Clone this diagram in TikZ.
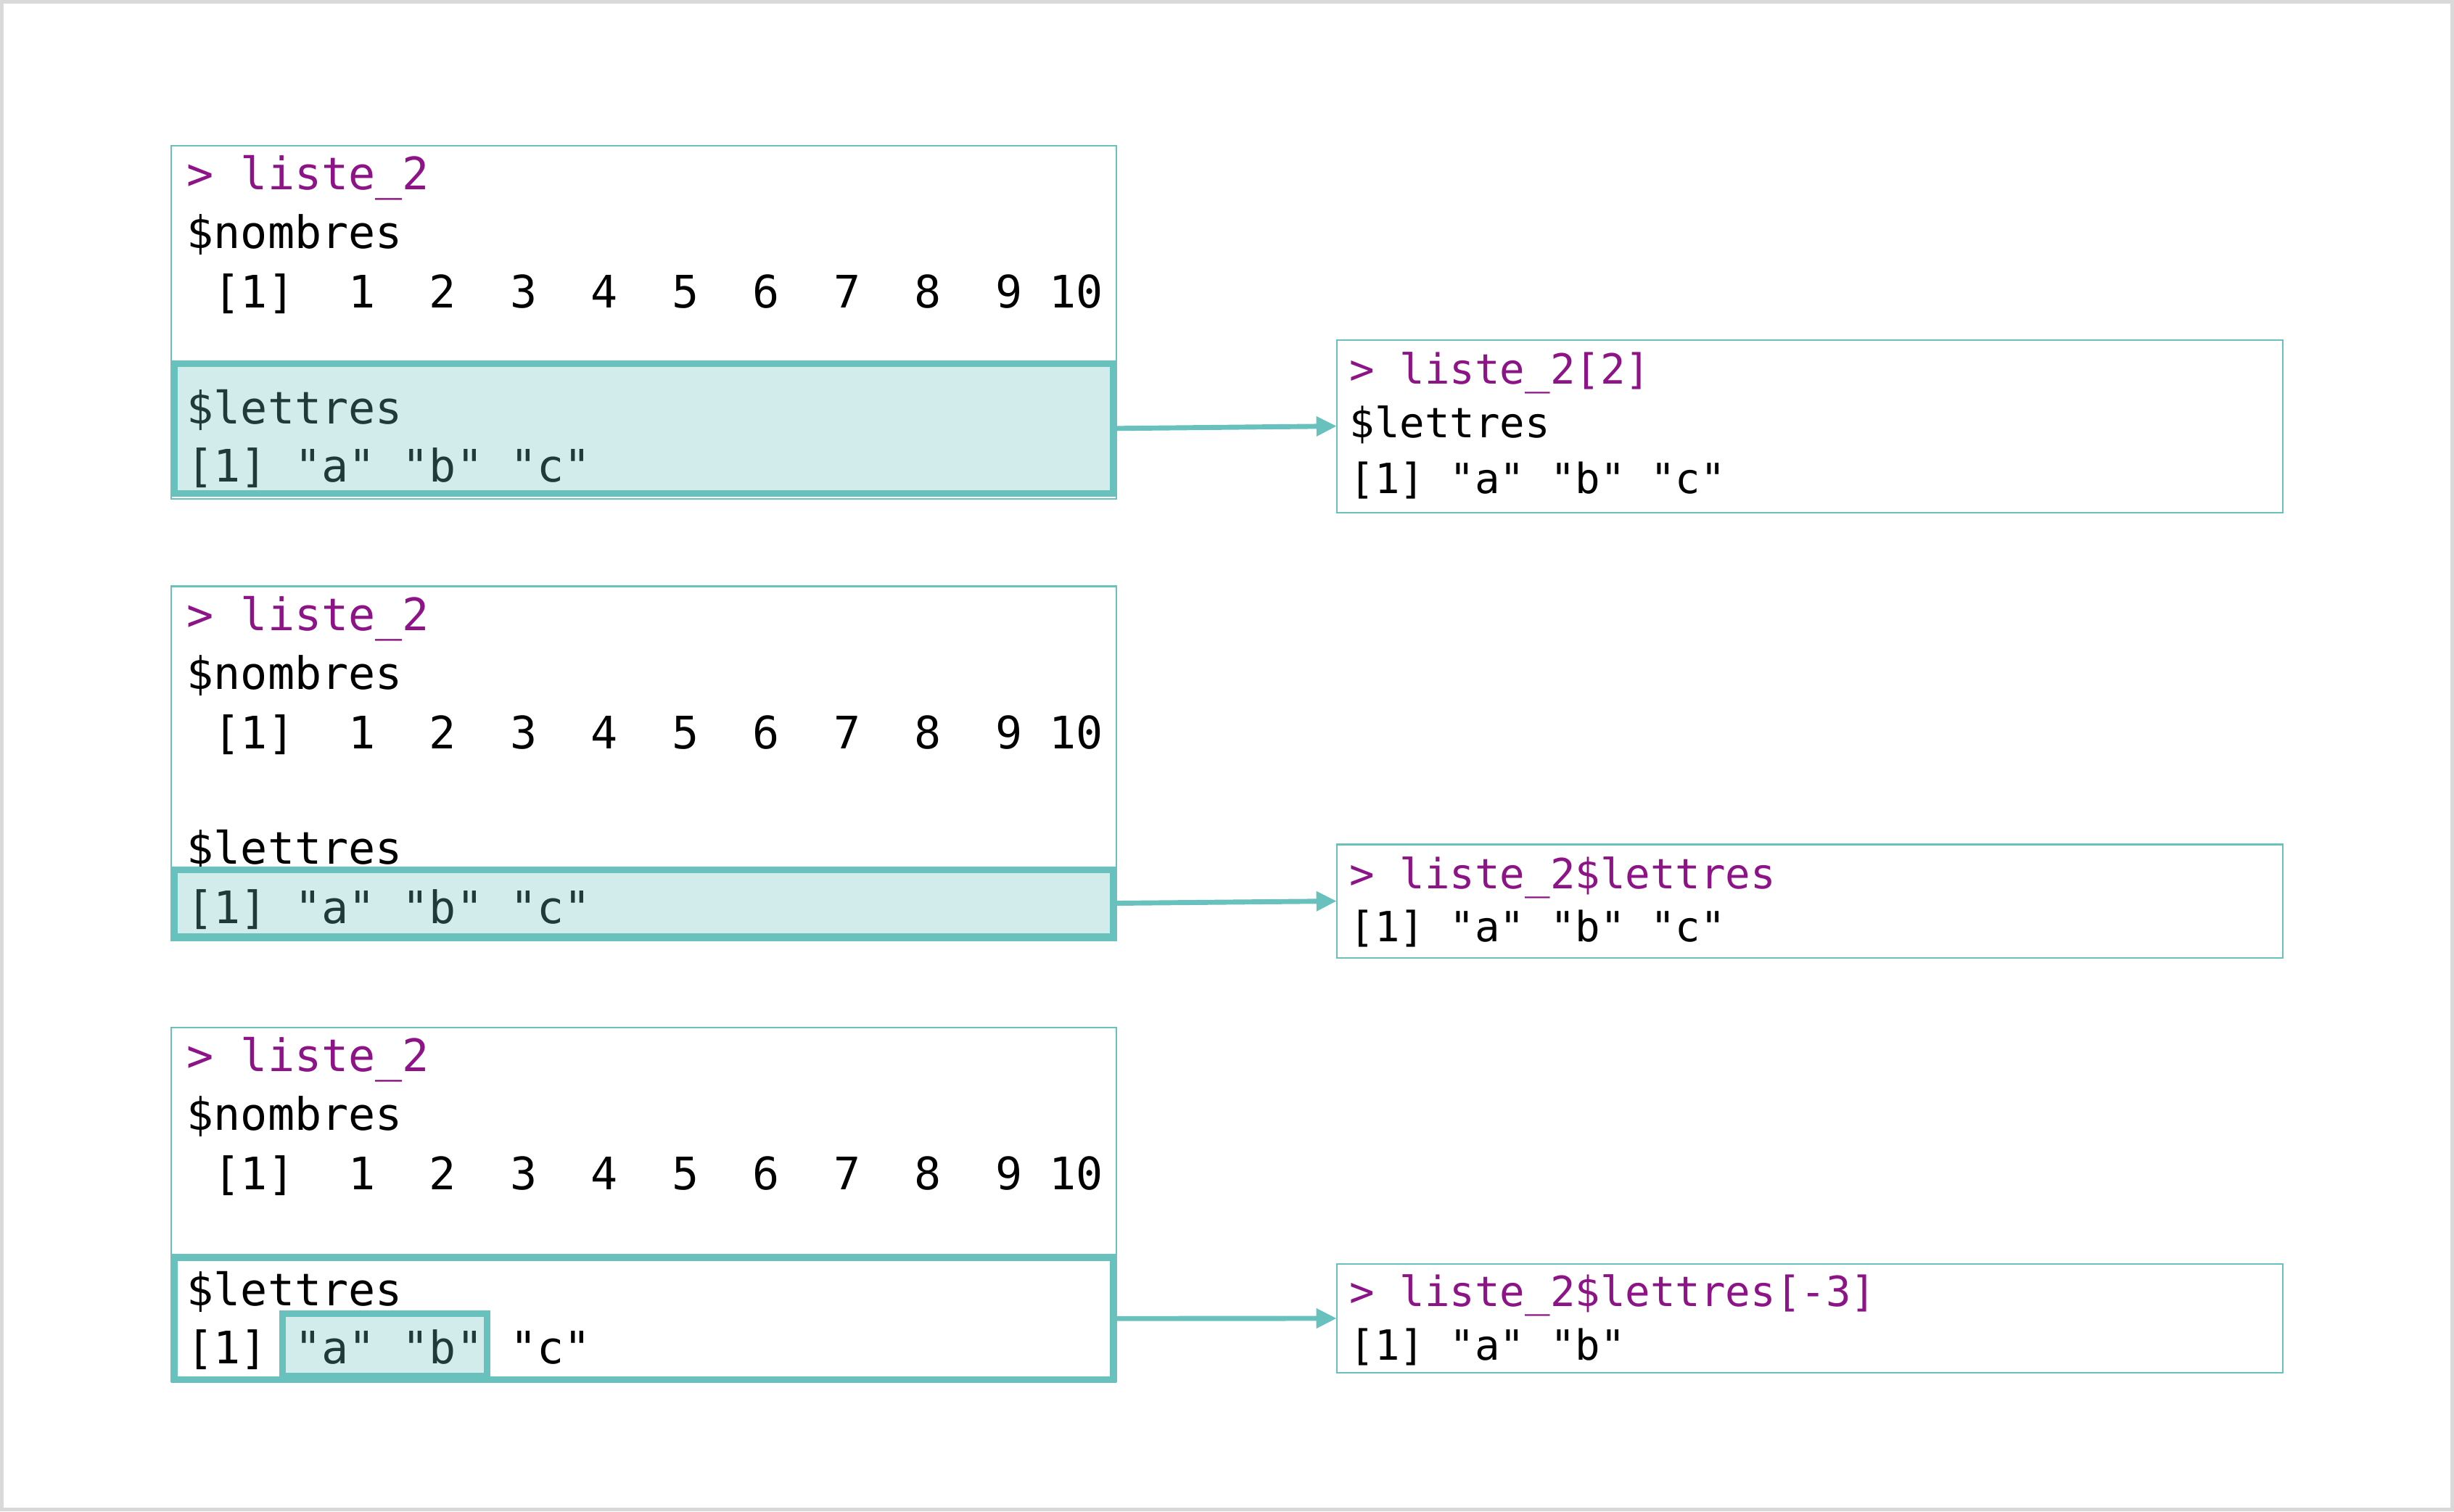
\documentclass[tikz,border=0pt]{standalone}
\usepackage{fontspec}
\usepackage{xcolor}
\usepackage{tikz}
\usetikzlibrary{arrows.meta,fit}
\newfontfamily\codefont{DejaVu Sans Mono}
\definecolor{tealline}{RGB}{104,193,189}
\definecolor{promptpurple}{RGB}{140,20,135}
\definecolor{framegray}{RGB}{217,217,217}
\frenchspacing

\begin{document}
\begin{tikzpicture}
      [ x=0.5pt, y=-0.5pt,
        code/.style={anchor=base west, inner sep=0pt,
                     font=\codefont\fontsize{14.3pt}{17pt}\selectfont},
        prompt/.style={code, text=promptpurple},
        result/.style={code, font=\codefont\fontsize{13.3pt}{16pt}\selectfont},
        resprompt/.style={result, text=promptpurple},
        console/.style={draw=tealline, line width=0.5pt, inner sep=0pt, outer sep=0pt},
        pick/.style={draw=tealline, line width=2.15pt, inner sep=0pt, outer sep=0pt},
        picked/.style={pick, fill=tealline, fill opacity=0.3},
        link/.style={-{Triangle[length=6.5pt,width=6pt]}, draw=tealline, line width=1.6pt}
      ]
      \useasboundingbox (0,0) rectangle (1568,966);
      \draw[framegray, line width=1.15pt, fill=white] (1.15,1.15) rectangle (1566.85,964.85);

      % liste_2[2]
      \node[console, fit={(109.2,93) (713.4,318.9)}]       (liste1) {};
      \node[prompt] (p1) at (119,121.3) {>~liste\_2};
      \node[code]   (n1) at (119,158.8) {\$nombres};
      \node[code]   (v1) at (119,196.7) {~[1]~~1~~2~~3~~4~~5~~6~~7~~8~~9~10};
      \node[code]   (t1) at (119,270.7) {\$lettres};
      \node[code]   (w1) at (119,308.2) {[1]~"a"~"b"~"c"};
      \node[picked, fit={(111.35,232.35) (711.25,315.35)}] (sel1) {};

      \node[console, fit={(854.1,217.2) (1458.4,327.5)}]   (res1) {};
      \node[resprompt] (rp1) at (862,245.3) {>~liste\_2[2]};
      \node[result]    (rt1) at (862,279.7) {\$lettres};
      \node[result]    (rw1) at (862,315.2) {[1]~"a"~"b"~"c"};

      % liste_2$lettres
      \node[console, fit={(109.2,374.7) (713.4,601)}]      (liste2) {};
      \node[prompt] (p2) at (119,403) {>~liste\_2};
      \node[code]   (n2) at (119,440.5) {\$nombres};
      \node[code]   (v2) at (119,478.4) {~[1]~~1~~2~~3~~4~~5~~6~~7~~8~~9~10};
      \node[code]   (t2) at (119,552.3) {\$lettres};
      \node[code]   (w2) at (119,590.2) {[1]~"a"~"b"~"c"};
      \node[picked, fit={(111.35,556.05) (711.25,598.55)}] (sel2) {};

      \node[console, fit={(854.1,539.7) (1458.4,612.1)}]   (res2) {};
      \node[resprompt] (rp2) at (862,567.8) {>~liste\_2\$lettres};
      \node[result]    (rw2) at (862,601.8) {[1]~"a"~"b"~"c"};

      % liste_2$lettres[-3]
      \node[console, fit={(109.2,656.7) (713.4,883)}]      (liste3) {};
      \node[prompt] (p3) at (119,685) {>~liste\_2};
      \node[code]   (n3) at (119,722.5) {\$nombres};
      \node[code]   (v3) at (119,760.4) {~[1]~~1~~2~~3~~4~~5~~6~~7~~8~~9~10};
      \node[code]   (t3) at (119,834.3) {\$lettres};
      \node[code]   (w3) at (119,871.4) {[1]~"a"~"b"~"c"};
      \node[pick,   fit={(111.35,803.65) (711.25,881.85)}] (sel3) {};
      \node[picked, fit={(180.55,839.55) (311.15,879.7)}]  (ab3) {};

      \node[console, fit={(854.1,807.7) (1458.4,877.5)}]   (res3) {};
      \node[resprompt] (rp3) at (862,835.1) {>~liste\_2\$lettres[-3]};
      \node[result]    (rw3) at (862,869.1) {[1]~"a"~"b"};

      \draw[link] (sel1.east) -- (res1.west);
      \draw[link] (sel2.east) -- (res2.west);
      \draw[link] (sel3.east) -- (res3.west);
\end{tikzpicture}
\end{document}
